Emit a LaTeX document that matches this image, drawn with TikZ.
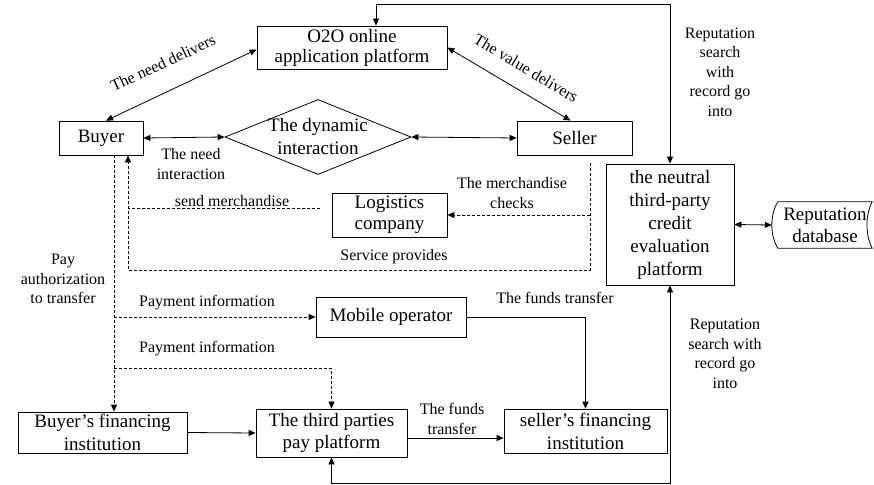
\documentclass[tikz,border=0pt]{standalone}
\usepackage{fontspec}
\setmainfont{Liberation Serif}
\usetikzlibrary{arrows.meta,shapes.geometric,calc}

\tikzset{
  box/.style={draw, line width=0.8pt, align=center, inner sep=0pt,
              font=\fontsize{19}{22}\selectfont},
  lbl/.style={align=center, inner sep=0pt, font=\fontsize{16}{19.5}\selectfont},
  conn/.style={line width=0.8pt, arrows={-Triangle[length=7pt,width=6pt]}},
  bidir/.style={line width=0.8pt, arrows={Triangle[length=7pt,width=6pt]-Triangle[length=7pt,width=6pt]}},
  plain/.style={line width=0.8pt},
  dashline/.style={dash pattern=on 3pt off 2pt},
}

\begin{document}
\begin{tikzpicture}[x=1pt,y=-1pt]
\useasboundingbox (0,0) rectangle (874,484);

% boxes
\node[box, minimum width=190pt, minimum height=43pt, font=\fontsize{19}{20}\selectfont] (o2o) at (352,47.5) {O2O online\\application platform};
\node[box, minimum width=84pt, minimum height=34pt] (buyer) at (101,138) {Buyer};
\node[box, minimum width=115pt, minimum height=34pt] (seller) at (574.5,138) {Seller};
\node[draw, line width=0.8pt, diamond, minimum width=186pt, minimum height=75pt, inner sep=0pt] (dyn) at (318,137)
  {\smash{\makebox[0pt]{\raisebox{-6pt}{\fontsize{19}{23}\selectfont\begin{tabular}{@{}c@{}}The dynamic\\interaction\end{tabular}}}}};
\node[box, minimum width=115pt, minimum height=44pt, font=\fontsize{19}{21}\selectfont] (logistics) at (389.5,215) {Logistics\\company};
\node[box, minimum width=128pt, minimum height=121pt, font=\fontsize{19}{23}\selectfont] (neutral) at (670,224.5) {the neutral\\third-party\\credit\\evaluation\\platform};
\node[minimum width=94pt, minimum height=46pt, inner sep=0pt, align=center, font=\fontsize{19}{22}\selectfont] (db) at (825,225) {Reputation\\database};
\node[box, minimum width=150pt, minimum height=40pt] (mobile) at (391,317) {Mobile operator};
\node[box, minimum width=169pt, minimum height=41pt, font=\fontsize{19}{23}\selectfont] (buyerfin) at (102.5,432.5) {Buyer’s financing\\institution};
\node[box, minimum width=151pt, minimum height=48pt] (third) at (331.5,433) {The third parties\\pay platform};
\node[box, minimum width=163pt, minimum height=44pt, font=\fontsize{19}{23}\selectfont] (sellerfin) at (585.5,431) {seller’s financing\\institution};

% database outline (stored-data shape)
\draw[plain] (db.north west) -- (db.north east)
  .. controls ($(db.north east)+(-7,13)$) and ($(db.south east)+(-7,-13)$) .. (db.south east)
  -- (db.south west)
  .. controls ($(db.south west)+(-8,-13)$) and ($(db.north west)+(-8,13)$) .. cycle;

% helper coordinates
\coordinate (sv) at (590,163);
\coordinate (svturn) at (590,270);
\coordinate (svx) at ([xshift=27pt]buyer.south);
\coordinate (sm) at (320,208);
\coordinate (pa) at (114,155);
\coordinate (pi) at (114,368);

% solid connectors
\draw[bidir] ([xshift=5pt]buyer.north) -- ([yshift=-2pt]o2o.west);
\draw[bidir] (o2o.east) -- ([xshift=-4pt]seller.north);
\draw[bidir] (buyer.east) -- (dyn.west);
\draw[bidir] (dyn.east) -- (seller.west);
\draw[bidir] (neutral.east) -- ([xshift=-6pt]db.west);
\draw[bidir] ([xshift=24pt]o2o.north) -- ++(0,-21) -| (neutral.north);
\draw[bidir] (third.south) -- ++(0,26) -| (neutral.south);
\draw[conn] (mobile.east) -| (sellerfin.north);
\draw[conn] (buyerfin.east) -- (third.west);
\draw[conn] ([yshift=-5pt]third.east) -- ([yshift=-5pt]third.east -| sellerfin.west);

% dashed connectors
\draw[conn, dashline] (sv) -- (svturn) -| (svx);
\draw[conn, dashline] (sv |- logistics.east) -- (logistics.east);
\draw[plain, dashline] (sm) -- (sm -| svx);
\draw[conn, dashline] (pa) -- (pa |- buyerfin.north);
\draw[conn, dashline] (pa |- mobile.west) -- (mobile.west);
\draw[conn, dashline] (pi) -| (third.north);

% labels
\node[lbl, rotate=25] (l1) at (163,63) {The need delivers};
\node[lbl, rotate=-31] (l2) at (526,68) {The value delivers};
\node[lbl] (l3) at (191,164) {The need\\interaction};
\node[lbl] (l4) at (232,201) {send merchandise};
\node[lbl] (l5) at (512,193) {The merchandise\\checks};
\node[lbl] (l6) at (394,257) {Service provides};
\node[lbl] (l7) at (63,279) {Pay\\authorization\\to transfer};
\node[lbl] (l8) at (207,303) {Payment information};
\node[lbl] (l9) at (207,349) {Payment information};
\node[lbl] (l10) at (555,298) {The funds transfer};
\node[lbl] (l11) at (452,419) {The funds\\transfer};
\node[lbl] (l12) at (720,72) {Reputation\\search\\with\\record go\\into};
\node[lbl] (l13) at (725,354) {Reputation\\search with\\record go\\into};
\end{tikzpicture}
\end{document}
